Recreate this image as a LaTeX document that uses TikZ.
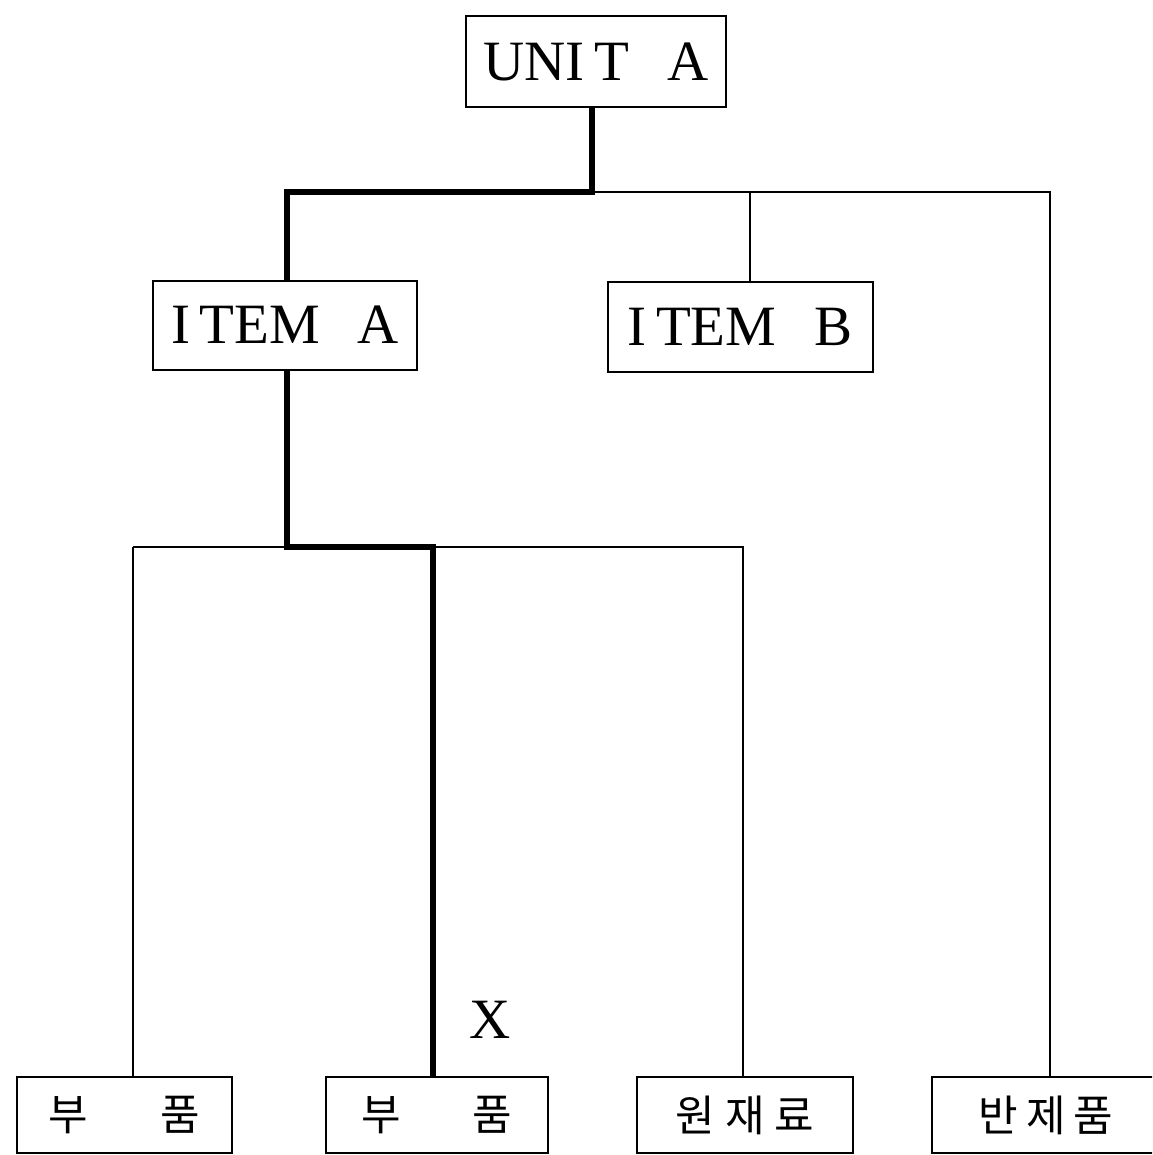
\documentclass[tikz,border=0pt]{standalone}
\usepackage{fontspec}
\newfontfamily\kr{Noto Sans CJK KR}
\newfontfamily\lat{Liberation Serif}
\begin{document}
\begin{tikzpicture}[x=0.5pt,y=-0.5pt,
  box/.style={draw,line width=1pt,inner sep=0pt,anchor=center},
  latin/.style={font=\lat\fontsize{28.5}{30}\selectfont},
  hang/.style={font=\kr\fontsize{21.5}{24}\selectfont},
  thin/.style={line width=1pt},
  heavy/.style={line width=2.6pt}]
\useasboundingbox (0,0) rectangle (1152,1155);
\begin{scope}
\clip (0,0) rectangle (1152,1155);
% nodes
\node[box,latin,minimum width=130pt,minimum height=45.5pt] (unitA) at (596,62) {UNI\,T\ \ \,A};
\node[box,latin,minimum width=132pt,minimum height=44.5pt] (itemA) at (285,325) {I\,TEM\ \ \,A};
\node[box,latin,minimum width=132.5pt,minimum height=45pt] (itemB) at (740,327) {I\,TEM\ \ \,B};
\node[box,hang,minimum width=107.5pt,minimum height=38pt] (p1) at (124.5,1115) {부\hspace{36pt}품};
\node[box,hang,minimum width=111pt,minimum height=38pt] (p2) at (437,1115) {부\hspace{36pt}품};
\node[box,hang,minimum width=108pt,minimum height=38pt] (raw) at (745,1115) {원\hspace{5pt}재\hspace{5pt}료};
\node[box,hang,minimum width=114pt,minimum height=38pt] (semi) at (1046,1115) {반\hspace{4pt}제\hspace{4pt}품};
\node[latin] (x) at (490,1020) {X};
% junctions
\coordinate (j1) at (592,192);
\coordinate (jB) at (750,192);
\coordinate (jS) at (1050,192);
\coordinate (j2) at (287,547);
\coordinate (jL) at (133,547);
\coordinate (j3) at (433,547);
\coordinate (jR) at (743,547);
% thin connectors
\draw[thin] (j1) -- (jS) -- (jS |- semi.north);
\draw[thin] (jB) -- (jB |- itemB.north);
\draw[thin] (jL) -- (jR) -- (jR |- raw.north);
\draw[thin] (jL) -- (jL |- p1.north);
% heavy path
\draw[heavy,line join=miter] (j1 |- unitA.south) -- (j1) -- (j1 -| j2) -- (j2 |- itemA.north);
\draw[heavy,line join=miter] (j2 |- itemA.south) -- (j2) -- (j3) -- (j3 |- p2.north);
\end{scope}
\end{tikzpicture}
\end{document}
